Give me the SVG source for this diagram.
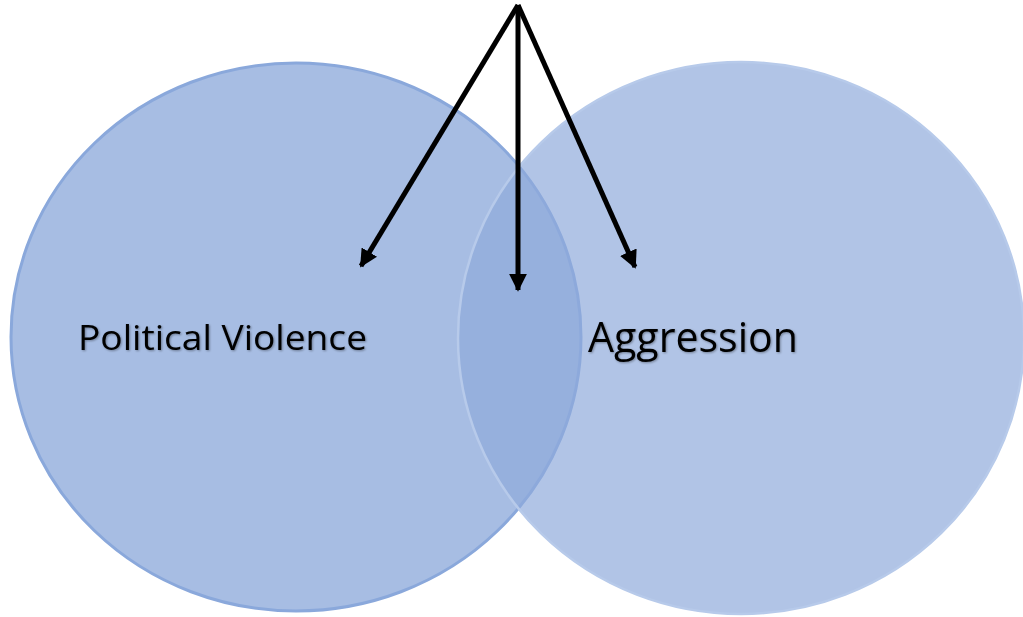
<svg xmlns="http://www.w3.org/2000/svg" width="1023" height="617" viewBox="0 0 1023 617">
<style>
.lbl{font-family:"Open Sans","Liberation Sans",sans-serif;fill:#000;filter:url(#sh)}
.arr{stroke:#000;stroke-width:5;fill:none;marker-end:url(#ah)}
</style>
<defs>
<marker id="ah" viewBox="0 0 10 10" refX="9" refY="5" markerWidth="3.6" markerHeight="3.6" orient="auto" markerUnits="strokeWidth">
<path d="M0,0 L10,5 L0,10 Z" fill="#000"/>
</marker>
<filter id="sh" x="-5%" y="-20%" width="110%" height="140%">
<feDropShadow dx="1" dy="1" stdDeviation="0.8" flood-color="#000" flood-opacity="0.35"/>
</filter>
</defs>
<rect width="1023" height="617" fill="#fff"/>
<g id="node-political">
<ellipse cx="296" cy="337" rx="285" ry="274" fill="#8EAADB" fill-opacity="0.78" stroke="#8AA8DB" stroke-width="3"/>
</g>
<g id="node-aggression">
<ellipse cx="741" cy="338" rx="283" ry="276" fill="#8EAADB" fill-opacity="0.69" stroke="#B7CAEA" stroke-width="2.5"/>
</g>
<g id="labels">
<text class="lbl" x="78" y="350" font-size="35" textLength="289" lengthAdjust="spacingAndGlyphs">Political Violence</text>
<text class="lbl" x="588" y="352" font-size="42" textLength="210" lengthAdjust="spacingAndGlyphs">Aggression</text>
</g>
<g id="connectors">
<line class="arr" x1="518" y1="5" x2="361" y2="266"/>
<line class="arr" x1="518" y1="5" x2="518" y2="290"/>
<line class="arr" x1="518" y1="5" x2="635" y2="267"/>
</g>
</svg>
